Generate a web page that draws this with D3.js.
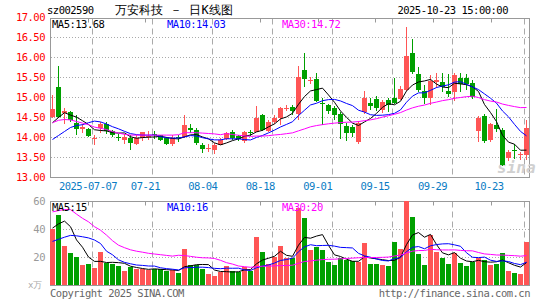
<!DOCTYPE html>
<html>
<head>
<meta charset="utf-8">
<script src="https://cdn.jsdelivr.net/npm/d3@7"></script>
<style>
  body { margin: 0; background: #fff; }
  svg { display: block; }
  text { font-family: "DejaVu Sans Mono", "Liberation Mono", monospace; }
</style>
</head>
<body>
<div id="kline"></div>
<script>
// daily candles, 80 trading days ending 2025-10-23
const open = [
  14.52, 15.27, 14.62, 14.64, 14.37, 14.21, 14.21, 13.98, 14.25, 14.33,
  14.16, 14.01, 13.95, 14.00, 13.84, 13.98, 14.02, 14.08, 14.05, 13.98,
  13.83, 14.02, 14.02, 14.25, 14.20, 13.81, 13.72, 13.70, 13.81, 13.96,
  14.15, 14.03, 13.90, 14.13, 14.15, 14.56, 14.17, 14.39, 14.48, 14.72,
  14.77, 14.60, 15.69, 15.40, 15.47, 14.86, 14.81, 14.75, 14.58, 14.28,
  14.27, 13.89, 14.63, 14.86, 14.97, 14.68, 14.93, 15.00, 14.97, 15.18,
  16.12, 15.60, 15.17, 14.98, 15.39, 15.39, 15.17, 15.14, 15.50, 15.49,
  15.37, 14.17, 14.53, 13.93, 14.31, 14.20, 13.50, 13.68, 13.56, 13.56
];
const close = [
  14.72, 14.52, 14.65, 14.44, 14.22, 14.27, 14.04, 14.00, 14.35, 14.16,
  14.05, 13.99, 14.02, 13.87, 13.98, 14.13, 14.04, 14.05, 13.95, 13.84,
  14.00, 13.98, 14.31, 14.20, 13.87, 13.71, 13.74, 13.81, 13.95, 14.11,
  14.00, 13.96, 14.13, 14.11, 14.50, 14.20, 14.39, 14.50, 14.73, 14.75,
  14.66, 15.51, 15.47, 15.43, 14.92, 14.84, 14.66, 14.55, 14.35, 14.12,
  14.12, 14.36, 15.00, 14.78, 14.75, 14.89, 14.80, 14.87, 15.22, 16.03,
  15.64, 15.18, 15.00, 15.41, 15.45, 15.27, 15.10, 15.55, 15.33, 15.35,
  15.02, 14.50, 13.92, 14.33, 14.22, 13.31, 13.64, 13.66, 13.58, 14.23
];
const high = [
  15.06, 15.79, 14.74, 14.66, 14.55, 14.35, 14.25, 14.06, 14.39, 14.39,
  14.19, 14.08, 14.09, 14.05, 14.05, 14.15, 14.17, 14.16, 14.07, 14.02,
  14.05, 14.06, 14.56, 14.33, 14.23, 13.87, 13.83, 13.87, 13.98, 14.15,
  14.20, 14.05, 14.16, 14.20, 14.78, 14.58, 14.43, 14.55, 14.77, 14.81,
  14.81, 15.78, 16.12, 15.52, 15.62, 15.00, 14.85, 14.78, 14.64, 14.37,
  14.31, 14.40, 15.17, 14.98, 15.03, 14.93, 15.00, 15.49, 15.28, 16.77,
  16.47, 15.77, 15.31, 15.55, 15.62, 15.62, 15.58, 15.62, 15.62, 15.58,
  15.45, 14.53, 14.60, 14.36, 14.72, 14.23, 13.68, 13.85, 13.64, 14.43
];
const low = [
  14.48, 14.50, 14.33, 14.38, 14.07, 14.12, 14.02, 13.80, 14.12, 14.10,
  14.02, 13.90, 13.85, 13.68, 13.82, 13.92, 13.93, 13.97, 13.92, 13.80,
  13.78, 13.88, 14.00, 14.12, 13.82, 13.61, 13.64, 13.60, 13.80, 13.93,
  13.93, 13.90, 13.87, 14.03, 14.13, 14.17, 14.14, 14.35, 14.30, 14.66,
  14.56, 14.43, 15.27, 15.33, 14.89, 14.31, 14.60, 14.45, 13.97, 13.90,
  14.02, 13.85, 14.60, 14.68, 14.66, 14.62, 14.64, 14.83, 14.93, 15.16,
  15.60, 15.14, 14.85, 14.80, 15.25, 15.13, 15.02, 14.90, 15.14, 15.18,
  14.97, 13.89, 13.87, 13.88, 14.15, 13.28, 13.40, 13.47, 13.44, 13.43
];
// volume, 万手
const volume = [
  40.7, 50.2, 28.3, 23.3, 20.4, 14.5, 15.2, 12.6, 23.6, 16.2,
  15.2, 14.0, 10.2, 13.3, 11.6, 11.6, 10.9, 12.1, 11.6, 10.2,
  10.9, 8.6, 25.9, 14.5, 14.5, 11.6, 8.1, 6.6, 9.3, 13.8,
  10.2, 9.3, 13.3, 10.2, 34.5, 23.6, 15.7, 20.4, 28.1, 20.0,
  20.0, 55.4, 48.3, 25.2, 27.6, 25.2, 16.9, 14.5, 19.3, 18.1,
  17.6, 16.9, 30.4, 15.2, 15.2, 14.5, 13.8, 31.1, 26.4, 60.2,
  49.0, 22.4, 14.5, 36.4, 24.0, 19.3, 15.2, 22.9, 16.2, 13.8,
  16.9, 20.0, 18.1, 14.5, 15.2, 23.3, 10.2, 9.0, 8.1, 31.1
];

// averages at the left edge, where the earlier days are off the chart
const ma5Lead = [14.37, 14.50, 14.62, 14.56];
const ma10Lead = [13.95, 14.05, 14.15, 14.25, 14.30, 14.32, 14.37, 14.41, 14.39];
const ma30Lead = [
  14.37, 14.43, 14.45, 14.44, 14.40, 14.36, 14.32, 14.26, 14.23, 14.20,
  14.15, 14.11, 14.08, 14.06, 14.06, 14.06, 14.06, 14.06, 14.06, 14.06,
  14.06, 14.07, 14.12, 14.12, 14.12, 14.11, 14.10, 14.09, 14.07
];
const vma5Lead = [41, 44, 46, 42];
const vma10Lead = [31.5, 33, 34.5, 35.8, 35.5, 34.8, 34, 32.5, 30];
const vma30Lead = [
  52.6, 53.5, 54.3, 54.2, 51, 48, 45.5, 42, 39.5, 36,
  32, 28.8, 27, 25.5, 24.5, 23.8, 23, 22.5, 22, 21.5,
  21, 21.6, 21.4, 20.8, 20.2, 19.8, 19.7, 19.3, 18
];

const tickLabels = ["2025-07-07", "07-21", "08-04", "08-18", "09-01", "09-15", "09-29", "10-23"];
const tickIndex = [7, 17, 27, 37, 47, 57, 67, 79];
const priceTicks = [17, 16.5, 16, 15.5, 15, 14.5, 14, 13.5, 13];
const volumeTicks = [60, 40, 20];
const priceLegend = ["13.68", "14.03", "14.72"];
const volumeLegend = ["15", "16", "20"];

const up = "#ff5555",
  down = "#00a000",
  maColors = ["#000000", "#0000ff", "#ff00ff"],
  grid = "#aaaaaa";

const N = close.length;

const movingAvg = (vals, n, lead) =>
  vals.map((v, i) => (i < n - 1 ? lead[i] : d3.mean(vals.slice(i - n + 1, i + 1))));

const svg = d3.select("#kline").append("svg").attr("width", 545).attr("height", 300);

const x = d3.scaleLinear().domain([0, 80]).range([50, 530]);
const labelX = d3.scaleLinear().domain([0, 80]).range([47.8, 507.2]);
const y = d3.scaleLinear().domain([13, 17]).range([177.5, 17.5]);
const yv = d3.scaleLinear().domain([0, 60]).range([285.5, 201.5]);

const mono = (sel, size) =>
  sel.attr("font-size", size).attr("letter-spacing", -0.5);

// header
mono(svg.append("text").attr("x", 47).attr("y", 14).text("sz002590"), 10.5);
svg
  .append("text")
  .attr("x", 115)
  .attr("y", 14)
  .attr("font-family", "Noto Sans CJK SC")
  .attr("font-size", 12)
  .text("万安科技 － 日K线图");
mono(
  svg.append("text").attr("x", 508).attr("y", 14).attr("text-anchor", "end").text("2025-10-23 15:00:00"),
  10.5
);

// panel frames, gridlines, top ticks
const panels = [
  { top: 18.5, bottom: 177.5, hTicks: priceTicks.slice(1, -1).map(y) },
  { top: 201.5, bottom: 285.5, hTicks: volumeTicks.slice(1).map(yv) },
];

panels.forEach((p) => {
  const g = svg.append("g");
  g.selectAll(".h")
    .data(p.hTicks)
    .join("line")
    .attr("x1", 51)
    .attr("x2", 529)
    .attr("y1", (d) => Math.round(d - 0.5) + 0.5)
    .attr("y2", (d) => Math.round(d - 0.5) + 0.5)
    .attr("stroke", grid)
    .attr("stroke-dasharray", "1,2");
  g.selectAll(".v")
    .data(tickIndex)
    .join("line")
    .attr("x1", (d) => x(d) + 0.5)
    .attr("x2", (d) => x(d) + 0.5)
    .attr("y1", p.top)
    .attr("y2", p.bottom)
    .attr("stroke", grid)
    .attr("stroke-dasharray", "6,4");
  g.selectAll(".t")
    .data(tickIndex)
    .join("line")
    .attr("x1", (d) => Math.round(Math.min(labelX(d), 491)) + 0.5)
    .attr("x2", (d) => Math.round(Math.min(labelX(d), 491)) + 0.5)
    .attr("y1", p.top)
    .attr("y2", p.top + 4)
    .attr("stroke", "#999");
  g.append("rect")
    .attr("x", 50.5)
    .attr("y", p.top)
    .attr("width", 479)
    .attr("height", p.bottom - p.top)
    .attr("fill", "none")
    .attr("stroke", "#999");
});

// price axis labels
svg
  .append("g")
  .selectAll("text")
  .data(priceTicks)
  .join("text")
  .attr("x", 45)
  .attr("y", (d) => y(d) + 3.5)
  .attr("text-anchor", "end")
  .attr("fill", "#ff0000")
  .attr("font-size", 10.5)
  .attr("letter-spacing", -0.5)
  .text((d) => d.toFixed(2));

// date labels
svg
  .append("g")
  .selectAll("text")
  .data(tickIndex)
  .join("text")
  .attr("x", (d) => Math.min(labelX(d), 489))
  .attr("y", 189.5)
  .attr("text-anchor", "middle")
  .attr("fill", "#0a7cc4")
  .attr("font-size", 10.5)
  .attr("letter-spacing", -0.5)
  .text((d, i) => tickLabels[i]);

// volume axis labels
svg
  .append("g")
  .selectAll("text")
  .data(volumeTicks)
  .join("text")
  .attr("x", 45)
  .attr("y", (d) => yv(d) + 3.5)
  .attr("text-anchor", "end")
  .attr("fill", "#999")
  .attr("font-size", 10.5)
  .attr("letter-spacing", -0.5)
  .text((d) => d);
svg
  .append("text")
  .attr("x", 28)
  .attr("y", 288)
  .attr("fill", "#aaa")
  .attr("font-family", "Noto Sans CJK SC")
  .attr("font-size", 9)
  .text("x万");

// watermark
svg
  .append("text")
  .attr("x", 497)
  .attr("y", 173)
  .attr("font-family", "DejaVu Sans")
  .attr("font-style", "italic")
  .attr("font-weight", "bold")
  .attr("font-size", 16)
  .attr("fill", "#d0d0d0")
  .text("sina");

// candles
const isUp = (i) => close[i] >= open[i];
const candle = svg
  .append("g")
  .selectAll("g")
  .data(d3.range(N))
  .join("g")
  .attr("fill", (i) => (isUp(i) ? up : down))
  .attr("stroke", (i) => (isUp(i) ? up : down));

candle
  .append("line")
  .attr("x1", (i) => x(i) + 2.5)
  .attr("x2", (i) => x(i) + 2.5)
  .attr("y1", (i) => Math.round(y(high[i])))
  .attr("y2", (i) => Math.round(y(low[i])));

candle
  .append("rect")
  .attr("x", (i) => x(i))
  .attr("y", (i) => Math.round(y(Math.max(open[i], close[i]))))
  .attr("width", 5)
  .attr("height", (i) =>
    Math.max(1, Math.round(y(Math.min(open[i], close[i]))) - Math.round(y(Math.max(open[i], close[i]))))
  )
  .attr("stroke", "none");

// volume bars
svg
  .append("g")
  .selectAll("rect")
  .data(d3.range(N))
  .join("rect")
  .attr("x", (i) => x(i))
  .attr("y", (i) => Math.round(yv(volume[i])))
  .attr("width", 5)
  .attr("height", (i) => 285 - Math.round(yv(volume[i])))
  .attr("fill", (i) => (isUp(i) ? up : down));

// moving averages
const priceMA = [movingAvg(close, 5, ma5Lead), movingAvg(close, 10, ma10Lead), movingAvg(close, 30, ma30Lead)];
const volumeMA = [movingAvg(volume, 5, vma5Lead), movingAvg(volume, 10, vma10Lead), movingAvg(volume, 30, vma30Lead)];

const drawMA = (series, scale) =>
  svg
    .append("g")
    .selectAll("path")
    .data(series)
    .join("path")
    .attr("fill", "none")
    .attr("stroke", (d, k) => maColors[k])
    .attr("stroke-width", 1)
    .attr("d", (d) =>
      d3
        .line()
        .x((v, i) => x(i) + 2.5)
        .y((v) => scale(v))(d)
    );

drawMA(priceMA, y);
drawMA(volumeMA, yv);

// legends
const legendX = [52, 167, 282];
const drawLegend = (vals, baseline) =>
  svg
    .append("g")
    .selectAll("text")
    .data(vals)
    .join("text")
    .attr("x", (d, k) => legendX[k])
    .attr("y", baseline)
    .attr("fill", (d, k) => maColors[k])
    .attr("font-size", 10.5)
    .attr("letter-spacing", -0.5)
    .text((d, k) => ["MA5:", "MA10:", "MA30:"][k] + d);

drawLegend(priceLegend, 27.5);
drawLegend(volumeLegend, 210.5);

// footer
mono(svg.append("text").attr("x", 50).attr("y", 297).attr("fill", "#666").text("Copyright 2025 SINA.COM"), 10.5);
mono(
  svg.append("text").attr("x", 530).attr("y", 297).attr("text-anchor", "end").attr("fill", "#666").text("http://finance.sina.com.cn"),
  10.5
);
</script>
</body>
</html>
